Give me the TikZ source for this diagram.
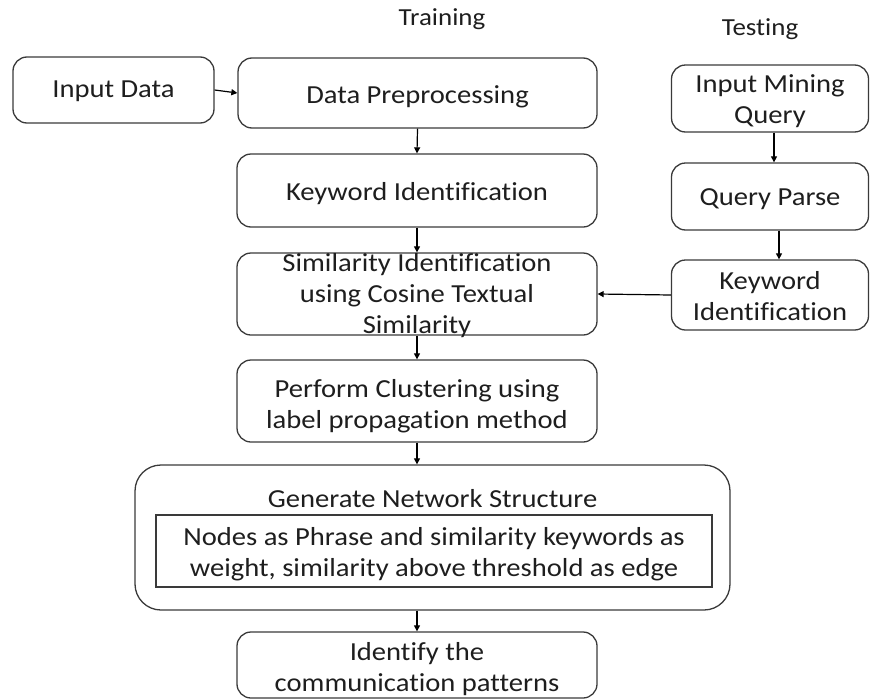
\documentclass[tikz,border=0pt]{standalone}
\usepackage{fontspec}
\setmainfont{Carlito}[FakeStretch=1.1, RawFeature={-liga;-clig;-dlig}]
\usetikzlibrary{arrows.meta}
\definecolor{ink}{HTML}{1E1E1E}
\definecolor{edge}{HTML}{3A3A3A}
\tikzset{
  box/.style={draw=edge, line width=1.3pt, rounded corners=14pt, inner sep=0pt},
  bigbox/.style={draw=edge, line width=1.3pt, rounded corners=26pt, inner sep=0pt},
  sqbox/.style={draw=edge, line width=1.3pt, inner sep=0pt},
  txt/.style={text=ink, align=center, inner sep=0pt, font=\fontsize{26}{31}\selectfont},
  ttl/.style={text=ink, inner sep=0pt, font=\fontsize{24.5}{29}\selectfont},
  arr/.style={draw=black, line width=1.2pt, -{Triangle[length=6pt,width=6pt]}},
}
\begin{document}
\begin{tikzpicture}[x=1pt,y=-1pt]
\useasboundingbox (0,0) rectangle (870,699);
% titles
\node[ttl] (training) at (442,19) {Training};
\node[ttl] (testing) at (760,29) {Testing};
% left column boxes
\node[box, minimum width=201pt, minimum height=66pt] (indata) at (113.5,90) {};
\node[txt] (indatat) at (113.5,91.5) {Input Data};
\node[box, minimum width=359pt, minimum height=70pt] (pre) at (417.5,93) {};
\node[txt] (pret) at (417.5,97) {Data Preprocessing};
\node[box, minimum width=360pt, minimum height=73pt] (kid) at (417,190.5) {};
\node[txt] (kidt) at (417,193.5) {Keyword Identification};
\node[box, minimum width=360pt, minimum height=82pt] (sim) at (417,294) {};
\node[txt] (simt) at (417,295.5) {Similarity Identification\\using Cosine Textual\\Similarity};
\node[box, minimum width=360pt, minimum height=82pt] (clu) at (417,401) {};
\node[txt] (clut) at (417,406.5) {Perform Clustering using\\label propagation method};
\node[bigbox, minimum width=595pt, minimum height=145pt] (gen) at (432.5,537.5) {};
\node[txt] (gent) at (432.5,498.5) {Generate Network Structure};
\node[sqbox, minimum width=556pt, minimum height=72pt] (inner) at (434,551) {};
\node[txt] (innert) at (434,554) {Nodes as Phrase and similarity keywords as\\weight, similarity above threshold as edge};
\node[box, minimum width=360pt, minimum height=66pt] (idp) at (417,665) {};
\node[txt] (idpt) at (417,669) {Identify the\\communication patterns};
% right column
\node[box, minimum width=197pt, minimum height=67pt] (imq) at (770,98.5) {};
\node[txt] (imqt) at (770,101) {Input Mining\\Query};
\node[box, minimum width=197pt, minimum height=67pt] (qp) at (770,196.5) {};
\node[txt] (qpt) at (770,199.5) {Query Parse};
\node[box, minimum width=197pt, minimum height=70pt] (rki) at (770,295) {};
\node[txt] (rkit) at (770,296) {Keyword\\Identification};
% connectors
\draw[arr] (indata.east) -- (pre.west);
\draw[arr] (pre.south) -- (kid.north);
\draw[arr] (kid.south) -- (sim.north);
\draw[arr] (sim.south) -- (clu.north);
\draw[arr] (clu.south) -- (clu.south |- gen.north);
\draw[arr] (gen.south -| idp.north) -- (idp.north);
\draw[arr] (imq.south -| 774,0) -- (qp.north -| 774,0);
\draw[arr] (qp.south -| 779,0) -- (rki.north -| 779,0);
\draw[arr] (rki.west) -- (sim.east);
\end{tikzpicture}
\end{document}
